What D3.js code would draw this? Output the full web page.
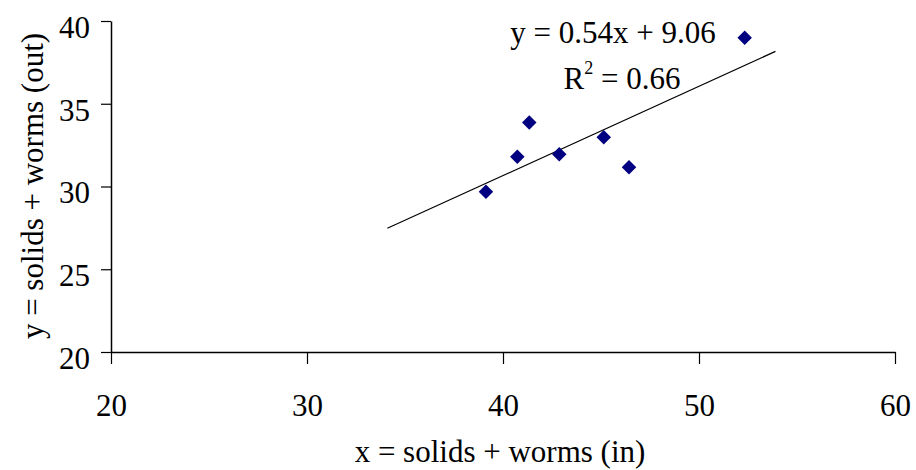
<!DOCTYPE html>
<html>
<head>
<meta charset="utf-8">
<script src="https://cdn.jsdelivr.net/npm/d3@7"></script>
<style>
  html, body { margin: 0; padding: 0; background: #fff; }
  svg { display: block; }
  svg text { font-family: "Liberation Serif", "Times New Roman", serif; fill: #000; }
</style>
</head>
<body>
<svg id="chart" width="916" height="470"></svg>
<script>
// Measured pairs: solids + worms going in (x) and coming out (y)
const xIn  = [39.13, 40.73, 41.34, 42.87, 45.14, 46.43, 52.33];
const yOut = [29.69, 31.80, 33.86, 31.95, 32.97, 31.16, 38.99];

// Linear trendline y = slope * x + intercept, drawn over this x span
const slope = 0.54;
const intercept = 9.06;
const rSquared = 0.66;
const trendSpan = [34.1, 53.9];

// Axis ticks
const xTicks = [20, 30, 40, 50, 60];
const yTicks = [20, 25, 30, 35, 40];

const FONT = 31;

const svg = d3.select("#chart");
const plot = { left: 111, right: 895, top: 21, bottom: 352 };

const x = d3.scaleLinear().domain([20, 60]).range([plot.left, plot.right]);
const y = d3.scaleLinear().domain([20, 40]).range([plot.bottom, plot.top]);

// X axis
const xAxis = svg.append("g")
  .attr("transform", `translate(0,${plot.bottom})`)
  .call(d3.axisBottom(x).tickValues(xTicks).tickSize(12).tickPadding(30).tickSizeOuter(0));
xAxis.attr("font-family", null).attr("font-size", FONT);
xAxis.select(".domain").attr("stroke", "#000").attr("stroke-width", 1.5);
xAxis.selectAll(".tick line").attr("stroke", "#000").attr("stroke-width", 1.2);
xAxis.selectAll(".tick text").attr("fill", "#000");

// Y axis
const yAxis = svg.append("g")
  .attr("transform", `translate(${plot.left},0)`)
  .call(d3.axisLeft(y).tickValues(yTicks).tickSize(10).tickPadding(11).tickSizeOuter(0));
yAxis.attr("font-family", null).attr("font-size", FONT);
yAxis.select(".domain").attr("stroke", "#000").attr("stroke-width", 1.5);
yAxis.selectAll(".tick line").attr("stroke", "#000").attr("stroke-width", 1.2);
yAxis.selectAll(".tick text").attr("fill", "#000").attr("dy", "0.53em");

// Trendline
svg.append("line")
  .attr("x1", x(trendSpan[0])).attr("y1", y(slope * trendSpan[0] + intercept))
  .attr("x2", x(trendSpan[1])).attr("y2", y(slope * trendSpan[1] + intercept))
  .attr("stroke", "#000").attr("stroke-width", 1.2);

// Diamond markers
const diamond = d3.symbol().type(d3.symbolSquare).size(105);
svg.append("g").selectAll("path")
  .data(d3.zip(xIn, yOut))
  .join("path")
  .attr("d", diamond)
  .attr("transform", d => `translate(${x(d[0])},${y(d[1])}) rotate(45)`)
  .attr("fill", "#000080");

// Trendline equation and R²
svg.append("text")
  .attr("x", 613).attr("y", 43)
  .attr("text-anchor", "middle")
  .attr("font-size", FONT)
  .text(`y = ${slope.toFixed(2)}x + ${intercept.toFixed(2)}`);

const r2 = svg.append("text")
  .attr("x", 622).attr("y", 89)
  .attr("text-anchor", "middle")
  .attr("font-size", FONT);
r2.append("tspan").text("R");
r2.append("tspan").attr("font-size", 18).attr("dy", -15).text("2");
r2.append("tspan").attr("dy", 15).text(` = ${rSquared.toFixed(2)}`);

// Axis titles
svg.append("text")
  .attr("x", 500).attr("y", 462)
  .attr("text-anchor", "middle")
  .attr("font-size", FONT)
  .text("x = solids + worms (in)");

svg.append("text")
  .attr("transform", `translate(43,186) rotate(-90)`)
  .attr("text-anchor", "middle")
  .attr("font-size", FONT)
  .text("y = solids + worms (out)");
</script>
</body>
</html>
